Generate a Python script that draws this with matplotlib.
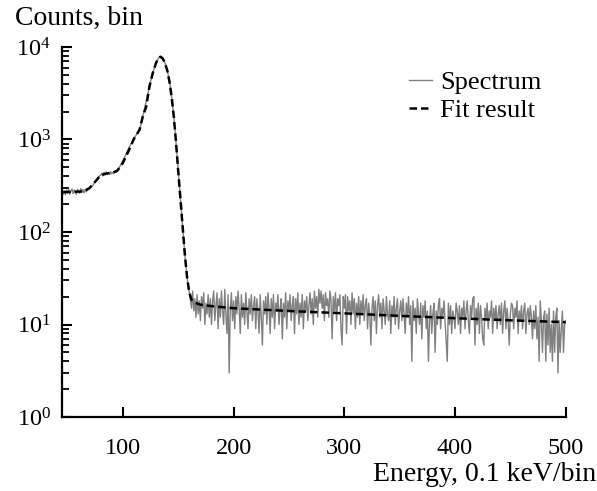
import numpy as np
import matplotlib
matplotlib.use("Agg")
import matplotlib.pyplot as plt
from matplotlib.ticker import LogLocator, NullLocator, FixedLocator, LogFormatterMathtext

plt.rcParams['font.family'] = ['Liberation Serif', 'DejaVu Serif']
plt.rcParams['mathtext.fontset'] = 'custom'
plt.rcParams['mathtext.rm'] = 'Liberation Serif'
plt.rcParams['mathtext.it'] = 'Liberation Serif:italic'

# Spectrum, bins 46..159 (peak region)
spec_low = [
    258, 278, 252, 284, 262, 290, 256, 276, 292, 260,
    285, 268, 255, 290, 270, 262, 295, 268, 288, 265,
    290, 272, 296, 288, 300, 305, 312, 322, 335, 350,
    365, 380, 395, 405, 412, 430, 404, 440, 415, 445,
    418, 436, 420, 448, 425, 442, 430, 455, 440, 470,
    488, 505, 530, 560, 590, 625, 660, 700, 745, 790,
    835, 880, 925, 975, 1020, 1070, 1120, 1170, 1220, 1270,
    1400, 1580, 1780, 2000, 2250, 2550, 2900, 3300, 3750, 4250,
    4750, 5250, 5750, 6250, 6750, 7200, 7550, 7800, 7850, 7750,
    7500, 7150, 6700, 6200, 5600, 4950, 4250, 3550, 2900, 2300,
    1750, 1300, 920, 640, 450, 320, 225, 160, 112, 78,
    56, 42, 32, 26,
]
# Spectrum, bins 160..500 (tail)
spec_tail = [
    22, 18, 15, 23, 14, 19, 12, 21, 13, 18, 11, 20, 15, 22, 10, 17, 13, 21, 12, 19,
    10, 18, 23, 11, 16, 22, 9, 19, 12, 23, 14, 10, 24, 13, 8, 21, 3, 15, 22, 11,
    18, 9, 20, 13, 23, 15, 8, 21, 12, 17, 10, 22, 14, 9, 19, 13, 21, 11, 16, 20,
    9, 19, 14, 8, 21, 12, 6, 18, 13, 20, 10, 22, 15, 8, 19, 12, 21, 9, 17, 14,
    21, 10, 15, 19, 7, 17, 12, 22, 9, 18, 14, 21, 11, 16, 20, 8, 19, 13, 22, 10,
    17, 12, 21, 9, 18, 14, 20, 11, 16, 22, 13, 19, 10, 23, 15, 20, 12, 24, 17, 23,
    15, 21, 11, 22, 16, 19, 12, 23, 18, 7, 20, 14, 22, 11, 19, 16, 21, 9, 6, 20,
    15, 21, 8, 20, 14, 18, 10, 22, 13, 19, 9, 17, 12, 20, 10, 18, 13, 21, 11, 16,
    19, 9, 17, 13, 6, 15, 20, 11, 18, 8, 16, 21, 12, 17, 9, 19, 14, 10, 20, 13,
    11, 18, 8, 16, 12, 20, 10, 15, 19, 9, 14, 18, 11, 19, 13, 8, 17, 12, 20, 10,
    16, 4, 18, 11, 15, 8, 19, 13, 10, 17, 7, 16, 12, 18, 9, 14, 4, 11, 16, 8,
    13, 17, 5, 14, 10, 16, 19, 9, 15, 12, 18, 11, 7, 4, 17, 10, 16, 8, 14, 12,
    9, 17, 14, 10, 16, 8, 15, 12, 18, 9, 14, 18, 11, 8, 16, 12, 19, 20, 6, 15,
    10, 17, 8, 16, 12, 7, 6, 15, 11, 17, 9, 14, 12, 18, 8, 15, 11, 16, 9, 13,
    16, 10, 17, 8, 14, 18, 9, 15, 11, 6, 13, 17, 16, 9, 15, 12, 18, 8, 14, 11,
    16, 9, 14, 17, 8, 13, 15, 10, 16, 12, 7, 14, 9, 16, 7, 12, 4, 18, 11, 5,
    12, 14, 4, 13, 6, 15, 5, 10, 4, 14, 5, 12, 15, 3, 11, 5, 9, 14, 5, 10,
    11,
]
spec_start = 46

# Fit curve knots
fit_x = [46, 55, 65, 70, 75, 80, 85, 90, 95, 100, 105, 110, 115, 118, 121, 124,
         127, 130, 132, 134, 136, 138, 140, 142, 144, 146, 148, 150, 152, 154,
         156, 158, 160, 162, 165, 170, 180, 200, 250, 300, 350, 400, 450, 500]
fit_y = [270, 272, 275, 300, 350, 412, 428, 436, 460, 560, 745, 1020, 1270, 1780,
         2250, 3750, 5250, 6750, 7550, 7850, 7500, 6700, 5600, 4250, 2900, 1750,
         920, 450, 225, 112, 56, 32, 22, 18.5, 17.2, 16.4, 15.8, 15.0, 14.0, 13.2,
         12.4, 11.7, 11.1, 10.6]

x_ticks = [100, 200, 300, 400, 500]

spec_y = np.array(spec_low + spec_tail, dtype=float)
spec_x = np.arange(spec_start, spec_start + len(spec_y))

fig = plt.figure(figsize=(5.97, 4.91), dpi=100)
ax = fig.add_axes([0.1039, 0.1507, 0.8437, 0.7536])

ax.plot(spec_x, spec_y, color='#808080', lw=1.0, label='Spectrum')
ax.plot(fit_x, fit_y, color='black', lw=1.8, linestyle=(0, (3, 1.6)), label='Fit result')

ax.set_yscale('log')
ax.set_xlim(45, 500)
ax.set_ylim(1, 1e4)

ax.xaxis.set_major_locator(FixedLocator(x_ticks))
ax.xaxis.set_minor_locator(NullLocator())
ax.yaxis.set_major_locator(LogLocator(base=10, numticks=10))
ax.yaxis.set_minor_locator(LogLocator(base=10, subs=np.arange(2, 10), numticks=20))
ax.yaxis.set_major_formatter(LogFormatterMathtext())

for s in ['top', 'right']:
    ax.spines[s].set_visible(False)
for s in ['left', 'bottom']:
    ax.spines[s].set_linewidth(1.6)

ax.tick_params(axis='both', which='major', direction='in', length=7.5, width=1.5,
               labelsize=17.5)
ax.tick_params(axis='both', which='minor', direction='in', length=5, width=1.3)
ax.tick_params(axis='x', which='major', pad=15)
ax.tick_params(axis='y', which='major', pad=8)

leg = ax.legend(loc='upper left', bbox_to_anchor=(0.689, 0.936), frameon=False,
                fontsize=19, handlelength=0.87, handletextpad=0.3, labelspacing=0.18,
                borderpad=0, borderaxespad=0)

fig.text(0.025, 0.963, 'Counts, bin', fontsize=20, ha='left', va='center')
fig.text(0.999, 0.033, 'Energy, 0.1 keV/bin', fontsize=20, ha='right', va='center')

fig.savefig('out.png', dpi=100)
